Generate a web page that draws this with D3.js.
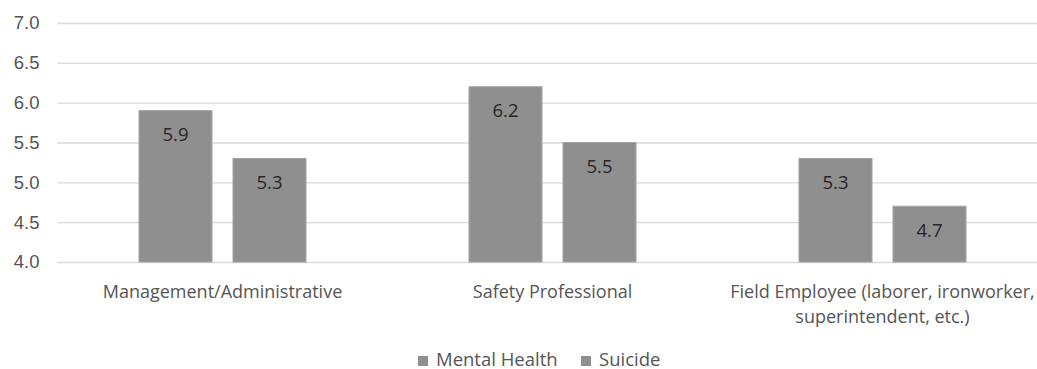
<!DOCTYPE html>
<html>
<head>
<meta charset="utf-8">
<script src="https://cdn.jsdelivr.net/npm/d3@7"></script>
<style>
  body { margin: 0; background: #ffffff; }
  svg { display: block; font-family: "Open Sans", sans-serif; }
</style>
</head>
<body>
<svg id="chart" width="1037" height="369"></svg>
<script>
// chart data
var categories = [
  'Management/Administrative',
  'Safety Professional',
  'Field Employee (laborer, ironworker, superintendent, etc.)'
];
var seriesNames = ['Mental Health', 'Suicide'];
var mentalHealth = [5.9, 6.2, 5.3];
var suicide = [5.3, 5.5, 4.7];
var yTicks = [4.0, 4.5, 5.0, 5.5, 6.0, 6.5, 7.0];

var seriesValues = [mentalHealth, suicide];

var svg = d3.select('#chart');
var plot = { left: 57.5, right: 1047.5, top: 23, bottom: 262 };
var barFill = '#8f8f8f';
var textColor = '#555555';
var fontSize = '18.5px';

var x0 = d3.scaleBand()
  .domain(categories)
  .range([plot.left, plot.right])
  .padding(0);

var x1 = d3.scaleBand()
  .domain(seriesNames)
  .range([0, x0.bandwidth()])
  .paddingInner(0.2234)
  .paddingOuter(0.867);

var y = d3.scaleLinear()
  .domain([4, 7])
  .range([plot.bottom, plot.top]);

// gridlines + tick labels
var yAxis = d3.axisLeft(y)
  .tickValues(yTicks)
  .tickFormat(d3.format('.1f'))
  .tickSize(-(1037 - plot.left))
  .tickPadding(18);

var gy = svg.append('g')
  .attr('transform', 'translate(' + plot.left + ',0)')
  .call(yAxis);

gy.select('.domain').remove();
gy.selectAll('.tick line')
  .attr('stroke', '#d9d9d9')
  .attr('stroke-width', 1.3);
gy.selectAll('.tick text')
  .attr('fill', textColor)
  .style('font-size', fontSize);

// bars
var groups = svg.append('g').selectAll('g')
  .data(categories)
  .enter().append('g')
  .attr('transform', function (d) { return 'translate(' + x0(d) + ',0)'; });

var bars = groups.selectAll('g.bar')
  .data(function (d, i) {
    return seriesNames.map(function (s, j) {
      return { series: s, value: seriesValues[j][i] };
    });
  })
  .enter().append('g')
  .attr('class', 'bar');

bars.append('rect')
  .attr('x', function (d) { return x1(d.series); })
  .attr('y', function (d) { return y(d.value); })
  .attr('width', x1.bandwidth())
  .attr('height', function (d) { return y(4) - y(d.value); })
  .attr('fill', barFill)
  .attr('stroke', '#a3a3a3')
  .attr('stroke-width', 1);

bars.append('text')
  .attr('x', function (d) { return x1(d.series) + x1.bandwidth() / 2; })
  .attr('y', function (d) { return y(d.value) + 24; })
  .attr('dy', '0.35em')
  .attr('text-anchor', 'middle')
  .attr('fill', '#262626')
  .style('font-size', fontSize)
  .text(function (d) { return d3.format('.1f')(d.value); });

// category labels, wrapped to the band width
var xLabels = svg.append('g').selectAll('text')
  .data(categories)
  .enter().append('text')
  .attr('x', function (d) { return x0(d) + x0.bandwidth() / 2; })
  .attr('y', 292)
  .attr('dy', '0.35em')
  .attr('text-anchor', 'middle')
  .attr('fill', textColor)
  .style('font-size', '18px')
  .text(function (d) { return d; });

xLabels.each(function () {
  var text = d3.select(this);
  var words = text.text().split(' ');
  var cx = text.attr('x');
  var line = [];
  var tspan = text.text(null).append('tspan').attr('x', cx);
  words.forEach(function (w) {
    line.push(w);
    tspan.text(line.join(' '));
    if (tspan.node().getComputedTextLength() > 330 && line.length > 1) {
      line.pop();
      tspan.text(line.join(' '));
      line = [w];
      tspan = text.append('tspan').attr('x', cx).attr('dy', '25px').text(w);
    }
  });
});

// legend
var legend = svg.append('g')
  .attr('transform', 'translate(418,360)');

var legendX = [0, 163];
var items = legend.selectAll('g')
  .data(seriesNames)
  .enter().append('g')
  .attr('transform', function (d, i) { return 'translate(' + legendX[i] + ',0)'; });

items.append('rect')
  .attr('x', 0)
  .attr('y', -4)
  .attr('width', 10)
  .attr('height', 10)
  .attr('fill', barFill);

items.append('text')
  .attr('x', 18)
  .attr('dy', '0.35em')
  .attr('fill', textColor)
  .style('font-size', fontSize)
  .text(function (d) { return d; });
</script>
</body>
</html>
